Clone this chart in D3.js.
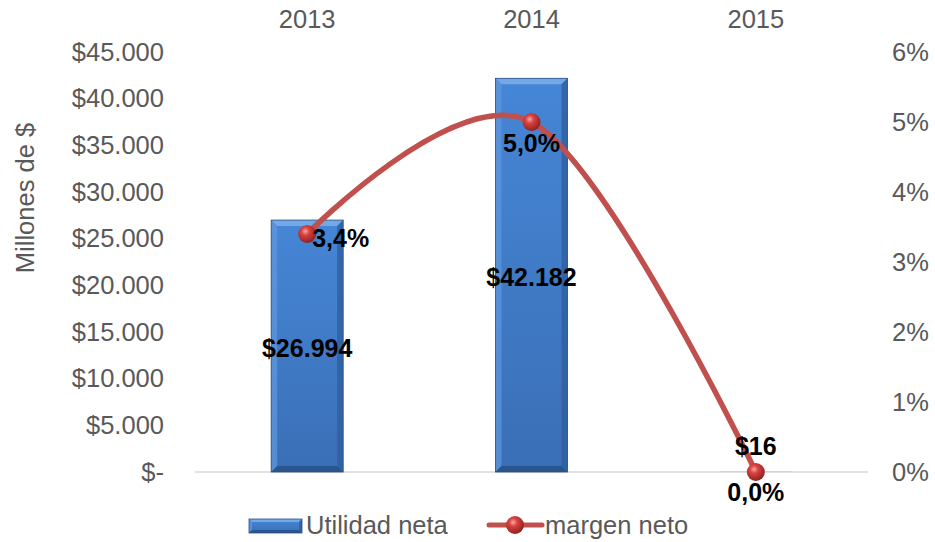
<!DOCTYPE html>
<html>
<head>
<meta charset="utf-8">
<script src="https://cdn.jsdelivr.net/npm/d3@7"></script>
<style>
  body { margin: 0; background: #fff; }
  text { font-family: "Liberation Sans", Arial, sans-serif; }
</style>
</head>
<body>
<div id="chart"></div>
<script>
!(function () {
  'use strict';
  // data
  const years = ['2013', '2014', '2015'];
  const utilidad = [26994, 42182, 16];
  const margen = [0.034, 0.050, 0.000];
  const leftTicks = [0, 5000, 10000, 15000, 20000, 25000, 30000, 35000, 40000, 45000];
  const rightTicks = [0, 0.01, 0.02, 0.03, 0.04, 0.05, 0.06];

  const W = 935, H = 542;
  const plot = { left: 195, right: 868, top: 52, bottom: 472 };
  const FS = 25.5;

  const es = d3.formatLocale({ decimal: ',', thousands: '.', grouping: [3], currency: ['$', ''] });
  const fmtMoney = v => v === 0 ? '$-' : '$' + es.format(',')(v);
  const fmtPct = es.format('.1%');

  const svg = d3.select('#chart').append('svg')
    .attr('width', W).attr('height', H);

  const defs = svg.append('defs');
  const bg = defs.append('linearGradient').attr('id', 'barGrad')
    .attr('x1', 0).attr('y1', 0).attr('x2', 0).attr('y2', 1);
  bg.append('stop').attr('offset', 0).attr('stop-color', '#4686d6');
  bg.append('stop').attr('offset', 1).attr('stop-color', '#3a6fb6');

  const mg = defs.append('radialGradient').attr('id', 'dotGrad')
    .attr('cx', 0.4).attr('cy', 0.35).attr('r', 0.65);
  mg.append('stop').attr('offset', 0).attr('stop-color', '#f7a6a4');
  mg.append('stop').attr('offset', 0.35).attr('stop-color', '#d9423f');
  mg.append('stop').attr('offset', 1).attr('stop-color', '#8e2220');

  const x = d3.scaleBand().domain(years).range([plot.left, plot.right]);
  const yL = d3.scaleLinear().domain([0, 45000]).range([plot.bottom, plot.top]);
  const yR = d3.scaleLinear().domain([0, 0.06]).range([plot.bottom, plot.top]);
  const cx = d => x(d) + x.bandwidth() / 2;

  const styleText = sel => sel.attr('font-size', FS).attr('fill', '#595959')
    .style('font-family', '"Liberation Sans", Arial, sans-serif');

  // baseline
  svg.append('line')
    .attr('x1', plot.left).attr('x2', plot.right)
    .attr('y1', yL(0)).attr('y2', yL(0))
    .attr('stroke', '#d9d9d9').attr('stroke-width', 1.5);

  // left axis
  const axL = svg.append('g').attr('transform', 'translate(164,0)')
    .call(d3.axisLeft(yL).tickValues(leftTicks).tickFormat(fmtMoney).tickSize(0).tickPadding(0));
  axL.select('.domain').remove();
  axL.selectAll('text').call(styleText);

  // right axis
  const axR = svg.append('g').attr('transform', 'translate(892,0)')
    .call(d3.axisRight(yR).tickValues(rightTicks).tickFormat(d3.format('.0%')).tickSize(0).tickPadding(0));
  axR.select('.domain').remove();
  axR.selectAll('text').call(styleText);

  // top category axis
  const axT = svg.append('g').attr('transform', 'translate(0,28)')
    .call(d3.axisTop(x).tickSize(0).tickPadding(0));
  axT.select('.domain').remove();
  axT.selectAll('text').call(styleText);

  // axis title
  svg.append('text')
    .attr('transform', 'translate(34,198) rotate(-90)')
    .attr('text-anchor', 'middle')
    .call(styleText)
    .text('Millones de $');

  // bevel helper
  const bevel = function (g, x0, y0, w, h, b) {
    g.append('rect').attr('x', x0).attr('y', y0).attr('width', w).attr('height', h)
      .attr('fill', 'url(#barGrad)');
    if (h < 2 * b) return;
    const x1 = x0 + w, y1 = y0 + h;
    const faces = [
      [[x0, y0], [x1, y0], [x1 - b, y0 + b], [x0 + b, y0 + b], '#7fb0ea'],
      [[x0, y0], [x0 + b, y0 + b], [x0 + b, y1 - b], [x0, y1], '#5b95dc'],
      [[x1, y0], [x1, y1], [x1 - b, y1 - b], [x1 - b, y0 + b], '#2e5f9f'],
      [[x0, y1], [x0 + b, y1 - b], [x1 - b, y1 - b], [x1, y1], '#264f86']
    ];
    faces.forEach(f => {
      g.append('polygon').attr('points', f.slice(0, 4).map(p => p.join(',')).join(' '))
        .attr('fill', f[4]).attr('opacity', 0.8);
    });
    g.append('rect').attr('x', x0).attr('y', y0).attr('width', w).attr('height', h)
      .attr('fill', 'none').attr('stroke', '#2b4f80').attr('stroke-width', 0.8);
  };

  // bars
  const barW = 72;
  const bars = svg.append('g');
  years.forEach((d, i) => {
    const top = yL(utilidad[i]);
    bevel(bars, cx(d) - barW / 2, top, barW, yL(0) - top, 6);
  });

  // line
  const line = d3.line()
    .x((d, i) => cx(years[i]))
    .y(d => yR(d))
    .curve(d3.curveCardinal.tension(0));
  svg.append('path').datum(margen)
    .attr('d', line)
    .attr('fill', 'none').attr('stroke', '#c0504d').attr('stroke-width', 5.5)
    .attr('stroke-linecap', 'round');

  svg.append('g').selectAll('circle').data(margen).enter()
    .append('circle')
    .attr('cx', (d, i) => cx(years[i]))
    .attr('cy', d => yR(d))
    .attr('r', 9)
    .attr('fill', 'url(#dotGrad)');

  // data labels
  const lbl = svg.append('g').attr('font-size', 25).attr('font-weight', 'bold').attr('fill', '#000');
  utilidad.forEach((v, i) => {
    const px = cx(years[i]);
    const py = i < 2 ? (yL(v) + yL(0)) / 2 + 2 : yL(v) - 26;
    lbl.append('text').attr('x', px).attr('y', py).attr('dy', '0.36em')
      .attr('text-anchor', 'middle').text(fmtMoney(v));
  });
  margen.forEach((v, i) => {
    const px = cx(years[i]), py = yR(v);
    const t = lbl.append('text').attr('dy', '0.36em').text(fmtPct(v));
    if (i === 0) t.attr('x', px + 5).attr('y', py + 4).attr('text-anchor', 'start');
    else t.attr('x', px).attr('y', py + (i === 1 ? 21 : 20)).attr('text-anchor', 'middle');
  });

  // legend
  const leg = svg.append('g');
  bevel(leg, 249, 519, 53, 14, 3);
  leg.append('text').attr('x', 306).attr('y', 525).attr('dy', '0.36em')
    .call(styleText).text('Utilidad neta');
  leg.append('line').attr('x1', 489).attr('x2', 542).attr('y1', 525).attr('y2', 525)
    .attr('stroke', '#c0504d').attr('stroke-width', 5).attr('stroke-linecap', 'round');
  leg.append('circle').attr('cx', 515).attr('cy', 525).attr('r', 9).attr('fill', 'url(#dotGrad)');
  leg.append('text').attr('x', 545).attr('y', 525).attr('dy', '0.36em')
    .call(styleText).text('margen neto');
}());
</script>
</body>
</html>
